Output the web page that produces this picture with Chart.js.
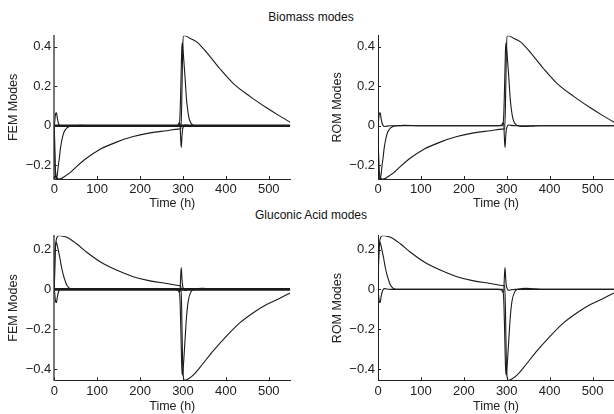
<!DOCTYPE html>
<html>
<head>
<meta charset="utf-8">
<script src="https://cdn.jsdelivr.net/npm/chart.js@4.4.1/dist/chart.umd.min.js"></script>
<style>
  body { margin: 0; width: 614px; height: 414px; background: #fff; position: relative; overflow: hidden;
         font-family: "Liberation Sans", Arial, sans-serif; }
  canvas { position: absolute; }
  .suptitle { position: absolute; left: 0; width: 622px; text-align: center; font-size: 12px; color: #111; line-height: 14px; }
</style>
</head>
<body>
<div class="suptitle" style="top:10px">Biomass modes</div>
<div class="suptitle" style="top:208px">Gluconic Acid modes</div>
<canvas id="bioFem" width="300" height="190" style="left:0;top:25px"></canvas>
<canvas id="bioRom" width="290" height="190" style="left:324px;top:25px"></canvas>
<canvas id="gluFem" width="300" height="189" style="left:0;top:225px"></canvas>
<canvas id="gluRom" width="290" height="189" style="left:324px;top:225px"></canvas>
<script>
// axis ticks
const timeTicks = [0, 100, 200, 300, 400, 500];
const bioTicks = [-0.2, 0, 0.2, 0.4];
const gluTicks = [-0.4, -0.2, 0, 0.2];
const bioRange = [-0.27, 0.456];
const gluRange = [-0.456, 0.269];

// biomass modes
const bioSlowT = [0, 1, 2, 4, 8, 12, 16, 22, 30, 37, 52, 75, 107, 145, 184, 223, 262, 290, 295, 297, 299, 301, 304, 315, 332, 355, 386, 417, 456, 495, 525, 550];
const bioSlowV = [0, -0.12, -0.2, -0.25, -0.268, -0.27, -0.268, -0.26, -0.248, -0.238, -0.207, -0.165, -0.119, -0.083, -0.055, -0.036, -0.025, -0.017, -0.015, 0.1, 0.35, 0.455, 0.456, 0.445, 0.425, 0.372, 0.289, 0.215, 0.149, 0.091, 0.05, 0.018];
const bioFastT = [0, 1, 2, 3, 5, 7, 9.5, 12, 14, 17, 20, 23, 26, 29, 33, 37, 45, 60, 100, 200, 290, 293, 295, 297, 298.5, 300, 302, 305, 308, 311, 314, 318, 322, 326, 335, 345, 360, 380, 450, 550];
const bioFastV = [0, -0.12, -0.22, -0.26, -0.27, -0.25, -0.2, -0.16, -0.12, -0.08, -0.05, -0.03, -0.02, -0.012, -0.006, -0.003, 0, 0.002, 0, 0, 0, 0.05, 0.2, 0.38, 0.42, 0.39, 0.33, 0.24, 0.14, 0.08, 0.04, 0.015, 0.005, 0, -0.004, -0.004, -0.002, 0, 0, 0];
const bioSmallT = [0, 1, 2, 3, 4, 5, 6, 7, 9, 11, 13, 16, 20, 30, 100, 280, 289, 291, 293, 294.5, 296, 297.5, 299, 301, 303, 306, 310, 320, 400, 550];
const bioSmallV = [0, 0.02, 0.045, 0.06, 0.066, 0.065, 0.055, 0.04, 0.018, 0.005, -0.002, -0.004, -0.002, 0, 0, 0, 0.005, 0.015, 0.01, -0.06, -0.11, -0.06, -0.02, -0.005, 0.003, 0.004, 0.002, 0, 0, 0];

// gluconic acid modes
const gluSlowT = [0, 1, 2, 4, 6, 9, 12, 18, 29, 52, 75, 107, 145, 184, 223, 262, 289, 295, 297, 299, 301, 303, 305, 310, 324, 340, 371, 402, 433, 464, 495, 525, 550];
const gluSlowV = [0, 0.12, 0.19, 0.24, 0.26, 0.269, 0.27, 0.268, 0.262, 0.229, 0.188, 0.139, 0.097, 0.064, 0.043, 0.03, 0.02, 0.018, -0.1, -0.35, -0.44, -0.455, -0.456, -0.452, -0.43, -0.39, -0.307, -0.233, -0.167, -0.117, -0.076, -0.045, -0.018];
const gluFastT = [0, 1, 2, 3, 5, 7, 10, 13.3, 17, 21, 25, 28.8, 33, 37, 50, 100, 290, 293, 295, 297, 298.5, 300, 302, 305, 308.6, 312.5, 318, 324, 335, 345, 360, 380, 450, 550];
const gluFastV = [0, 0.1, 0.18, 0.22, 0.235, 0.22, 0.19, 0.155, 0.11, 0.073, 0.045, 0.023, 0.01, 0.003, 0, 0, 0, -0.05, -0.2, -0.38, -0.43, -0.41, -0.35, -0.246, -0.13, -0.056, -0.015, 0, 0.004, 0.005, 0.003, 0.001, 0, 0];
const gluSmallT = [0, 1, 2, 3, 4, 5, 6, 7, 9, 11, 13, 16, 20, 30, 100, 280, 289, 291, 293, 294.5, 296, 297.5, 299, 301, 303, 306, 310, 320, 400, 550];
const gluSmallV = [0, -0.02, -0.045, -0.06, -0.066, -0.065, -0.055, -0.04, -0.018, -0.005, 0.002, 0.004, 0.002, 0, 0, 0, -0.005, -0.015, -0.01, 0.06, 0.11, 0.06, 0.02, 0.005, -0.003, -0.004, -0.002, 0, 0, 0];

// the bundle of higher FEM modes that sits on zero
const zeroT = [0, 550];
const zeroV = [0, 0];

const tickFont = { family: "Liberation Sans", size: 13 };
const labelFont = { family: "Liberation Sans", size: 12.5 };

const inwardTicks = {
    id: 'inwardTicks',
    afterDatasetsDraw(chart) {
        const ctx = chart.ctx;
        const xs = chart.scales.x;
        const ys = chart.scales.y;
        ctx.save();
        ctx.strokeStyle = '#222';
        ctx.lineWidth = 1;
        ctx.beginPath();
        xs.ticks.forEach(function(t) {
            const px = Math.round(xs.getPixelForValue(t.value)) + 0.5;
            ctx.moveTo(px, xs.top);
            ctx.lineTo(px, xs.top - 3);
        });
        ys.ticks.forEach(function(t) {
            const py = Math.round(ys.getPixelForValue(t.value)) + 0.5;
            ctx.moveTo(ys.right, py);
            ctx.lineTo(ys.right + 3, py);
        });
        ctx.stroke();
        ctx.restore();
    }
};

function mode(t, v, width) {
    return {
        data: t.map(function(x, i) { return { x: x, y: v[i] }; }),
        borderColor: '#1a1a1a',
        borderWidth: width || 1.1,
        pointRadius: 0,
        fill: false,
        cubicInterpolationMode: 'monotone'
    };
}

function fmt(value) {
    if (value === 0) return '0';
    return (value < 0 ? '\u2212' : '') + Math.abs(value).toFixed(1);
}

function createModeChart(id, datasets, opts) {
    const ctx = document.querySelector('#' + id).getContext('2d');
    new Chart(ctx, {
        type: 'line',
        data: { datasets: datasets },
        options: {
            responsive: false,
            animation: false,
            layout: { padding: { top: opts.padTop, right: opts.padRight, left: 0, bottom: 0 } },
            plugins: { legend: { display: false }, tooltip: { enabled: false } },
            scales: {
                x: {
                    type: 'linear',
                    min: 0,
                    max: 550,
                    afterBuildTicks: function(s) { s.ticks = timeTicks.map(function(v) { return { value: v }; }); },
                    afterFit: function(s) { s.height = opts.xHeight; },
                    ticks: { font: tickFont, color: '#222', padding: 3, maxRotation: 0, autoSkip: false },
                    grid: { display: false, drawTicks: false },
                    border: { display: true, color: '#222', width: 1 },
                    title: { display: true, text: 'Time (h)', font: labelFont, color: '#222', padding: { top: 0, bottom: opts.xTitlePad } }
                },
                y: {
                    type: 'linear',
                    min: opts.range[0],
                    max: opts.range[1],
                    afterBuildTicks: function(s) { s.ticks = opts.ticks.map(function(v) { return { value: v }; }); },
                    afterFit: function(s) { s.width = opts.yWidth; },
                    ticks: { font: tickFont, color: '#222', padding: 3, callback: fmt },
                    grid: { display: false, drawTicks: false },
                    border: { display: true, color: opts.yAxisColor, width: opts.yAxisWidth },
                    title: { display: true, text: opts.yLabel, font: labelFont, color: '#222', padding: { top: 6.5, bottom: 0 } }
                }
            }
        },
        plugins: [inwardTicks]
    });
}

createModeChart('bioFem', [
    mode(zeroT, zeroV, 2.6),
    mode(bioSlowT, bioSlowV),
    mode(bioFastT, bioFastV),
    mode(bioSmallT, bioSmallV)
], { padTop: 7.7, padRight: 9.8, xHeight: 36, yWidth: 54.3, xTitlePad: 3.5, range: bioRange, ticks: bioTicks,
     yLabel: 'FEM Modes', yAxisColor: '#777', yAxisWidth: 2 });

createModeChart('bioRom', [
    mode(bioSlowT, bioSlowV),
    mode(bioFastT, bioFastV),
    mode(bioSmallT, bioSmallV)
], { padTop: 7.7, padRight: 0, xHeight: 36, yWidth: 54, xTitlePad: 3.5, range: bioRange, ticks: bioTicks,
     yLabel: 'ROM Modes', yAxisColor: '#222', yAxisWidth: 1 });

createModeChart('gluFem', [
    mode(zeroT, zeroV, 2.6),
    mode(gluSlowT, gluSlowV),
    mode(gluFastT, gluFastV),
    mode(gluSmallT, gluSmallV)
], { padTop: 8.7, padRight: 9.8, xHeight: 33.7, yWidth: 54.3, xTitlePad: 0, range: gluRange, ticks: gluTicks,
     yLabel: 'FEM Modes', yAxisColor: '#777', yAxisWidth: 2 });

createModeChart('gluRom', [
    mode(gluSlowT, gluSlowV),
    mode(gluFastT, gluFastV),
    mode(gluSmallT, gluSmallV)
], { padTop: 8.7, padRight: 0, xHeight: 33.7, yWidth: 54, xTitlePad: 0, range: gluRange, ticks: gluTicks,
     yLabel: 'ROM Modes', yAxisColor: '#222', yAxisWidth: 1 });
</script>
</body>
</html>
